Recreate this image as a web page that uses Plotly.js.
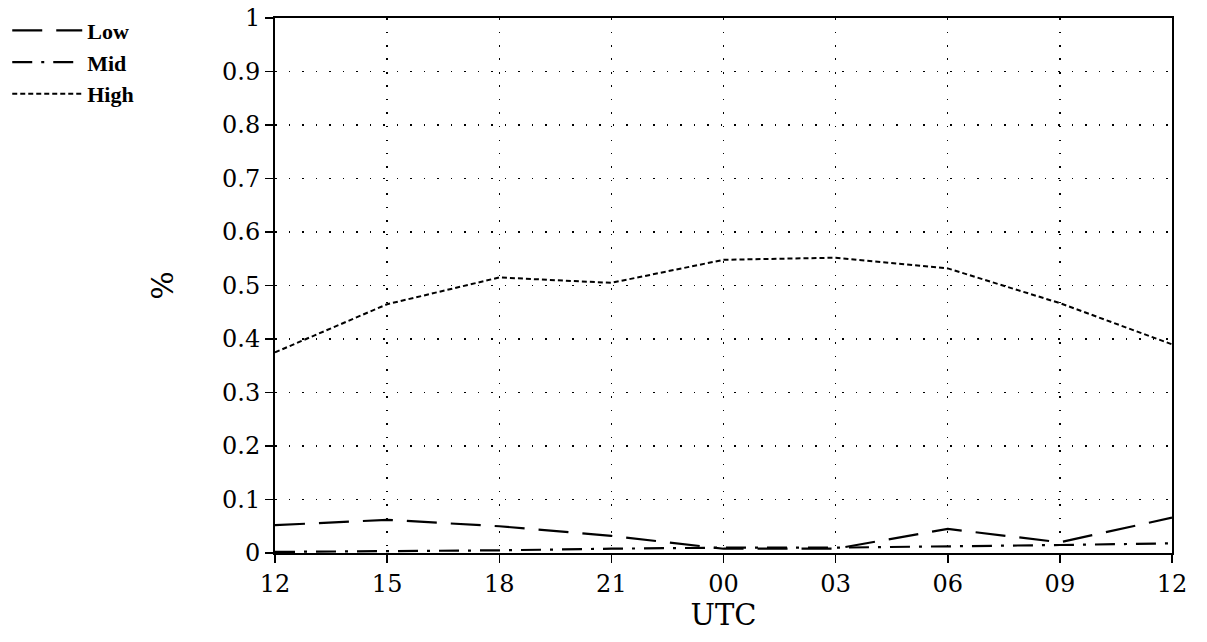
<!DOCTYPE html>
<html><head><meta charset="utf-8">
<script src="https://cdn.plot.ly/plotly-3.0.1.min.js"></script>
<style>body{margin:0;background:#fff}#c{width:1207px;height:642px}</style>
</head><body><div id="c"></div>
<script>
const hours = [0, 3, 6, 9, 12, 15, 18, 21, 24];
const tickLabels = ["12", "15", "18", "21", "00", "03", "06", "09", "12"];
const lowVals = [0.052, 0.062, 0.050, 0.032, 0.008, 0.008, 0.045, 0.020, 0.066];
const midVals = [0.002, 0.003, 0.005, 0.008, 0.010, 0.010, 0.012, 0.015, 0.018];
const highVals = [0.375, 0.465, 0.515, 0.505, 0.548, 0.552, 0.532, 0.467, 0.390];
const yTicks = [0, 0.1, 0.2, 0.3, 0.4, 0.5, 0.6, 0.7, 0.8, 0.9, 1];

const serif = "DejaVu Serif, Liberation Serif, serif";
const traces = [
  {x: hours, y: lowVals, name: "Low", mode: "lines", line: {color: "#000", width: 2.2, dash: "30px,14px"}},
  {x: hours, y: midVals, name: "Mid", mode: "lines", line: {color: "#000", width: 2.2, dash: "20px,9px,3px,9px"}},
  {x: hours, y: highVals, name: "High", mode: "lines", line: {color: "#000", width: 2, dash: "5px,3px"}}
];
const layout = {
  width: 1207, height: 642,
  margin: {l: 275, r: 35, t: 18, b: 89, autoexpand: false},
  paper_bgcolor: "#fff", plot_bgcolor: "#fff",
  showlegend: true,
  legend: {xref: "container", yref: "container", x: 0.006, xanchor: "left", y: 0.985, yanchor: "top",
    font: {family: "Liberation Serif, serif", size: 22, color: "#000", weight: "bold"},
    bgcolor: "rgba(0,0,0,0)", tracegroupgap: 0, itemwidth: 70},
  xaxis: {
    range: [0, 24], tickvals: hours, ticktext: tickLabels,
    showline: true, linecolor: "#000", linewidth: 2, mirror: true,
    ticks: "outside", ticklen: 8, tickwidth: 1.5, tickcolor: "#000",
    showgrid: true, gridcolor: "#000", gridwidth: 1.3, griddash: "1.5px,12px",
    zeroline: false,
    tickfont: {family: serif, size: 24, color: "#000"},
    title: {text: "UTC", font: {family: serif, size: 29, color: "#000"}, standoff: 6}
  },
  yaxis: {
    range: [0, 1], tickvals: yTicks,
    showline: true, linecolor: "#000", linewidth: 2, mirror: true,
    ticks: "outside", ticklen: 8, tickwidth: 1.5, tickcolor: "#000",
    showgrid: true, gridcolor: "#000", gridwidth: 1.3, griddash: "1.5px,12px",
    zeroline: false,
    tickfont: {family: serif, size: 24, color: "#000"},
    title: {text: "%", font: {family: serif, size: 30, color: "#000"}, standoff: 40}
  }
};
Plotly.newPlot("c", traces, layout, {displayModeBar: false, staticPlot: true});
</script></body></html>
